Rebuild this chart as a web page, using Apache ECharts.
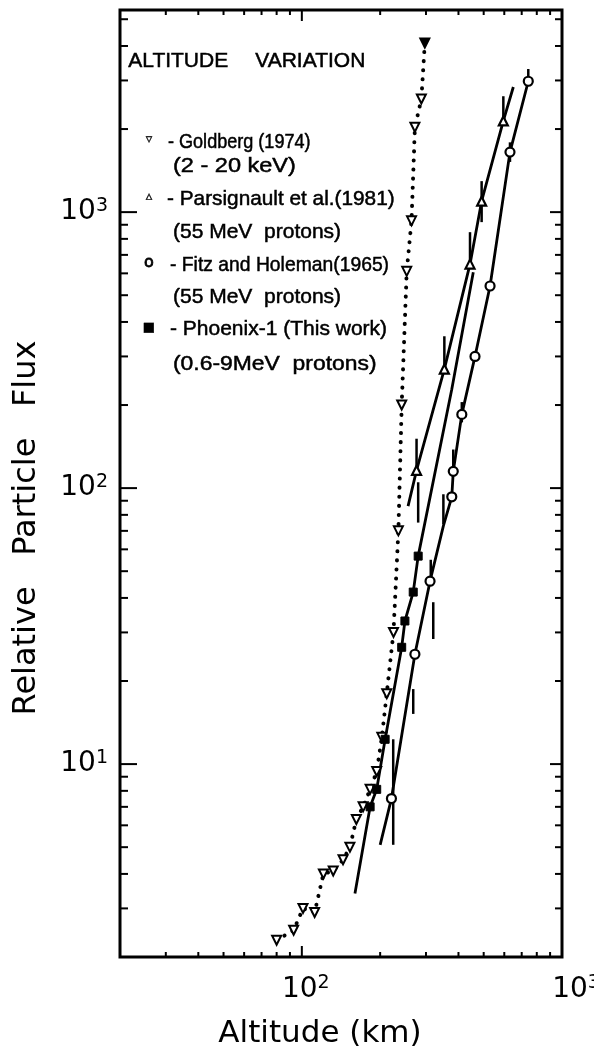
<!DOCTYPE html>
<html><head><meta charset="utf-8">
<script src="https://cdn.jsdelivr.net/npm/echarts@6/dist/echarts.min.js"></script>
<style>html,body{margin:0;padding:0;background:#fff;overflow:hidden}#c{width:594px;height:1051px}</style>
</head><body><div id="c"></div>
<script>
// ---- data ----
const goldbergAlt  = [80, 93, 101, 112, 121, 132, 144, 153, 162, 172, 183, 194, 203, 212, 225, 235, 242, 253, 264, 272, 288, 297];
const goldbergFlux = [2.3, 2.5, 3.0, 2.9, 4.0, 4.1, 4.5, 5.0, 6.3, 7.0, 8.1, 9.4, 12.5, 18, 30, 70, 200, 610, 930, 2030, 2570, 4100];
const goldbergFilled = [0,0,0,0,0,0,0,0,0,0,0,0,0,0,0,0,0,0,0,0,0,1];

const fitzAlt  = [200, 221, 272, 311, 350, 377, 382, 412, 463, 529, 631, 742];
const fitzFlux = [5.1, 7.5, 25, 46, 73, 93, 115, 185, 300, 540, 1650, 2980];
const fitzMark = [0,1,1,1,0,1,1,1,1,1,1,1];

const parsAlt  = [256, 276, 353, 443, 491, 595, 650];
const parsFlux = [86, 116, 270, 648, 1096, 2140, 2840];
const parsMark = [0,1,1,1,1,1,0];

const phxAlt  = [160, 183, 194, 209, 242, 249, 268, 280, 377, 456];
const phxFlux = [3.4, 7.0, 8.1, 12.3, 26.5, 33, 42, 56.7, 228, 606];
const phxMark = [0,1,1,1,1,1,1,1,0,0];

const errAlt  = [280, 276, 353, 443, 491, 595, 631, 742, 412, 382, 350, 320, 268, 224.5, 313];
const errLow  = [75, 116, 270, 648, 920, 2140, 1520, 2980, 173, 115, 74, 28.4, 15.2, 5.1, 46];
const errHigh = [105, 151, 355, 846, 1295, 2630, 1790, 3300, 205, 138, 95, 38.6, 18.7, 12.3, 55];

const xMinorTicks = [30,40,50,60,70,80,90,200,300,400,500,600,700,800,900];
const xMajorTicks = [100];
const yMinorTicks = [3,4,5,6,7,8,9,20,30,40,50,60,70,80,90,200,300,400,500,600,700,800,900,2000,3000,4000,5000];
const yMajorTicks = [10,100,1000];
const xLabelExp = [2,3];
const yLabelExp = [1,2,3];

const titleText = 'ALTITUDE';
const titleText2 = 'VARIATION';
const legendLines = [
  '- Goldberg (1974)',
  '(2 - 20 keV)',
  '- Parsignault et al.(1981)',
  '(55 MeV  protons)',
  '- Fitz and Holeman(1965)',
  '(55 MeV  protons)',
  '- Phoenix-1 (This work)',
  '(0.6-9MeV  protons)'
];
const legendSymbols = ['▿', '▵', 'o', '■'];
const xTitle = 'Altitude (km)';
const yTitle = 'Relative   Particle   Flux';

// ---- build ----
const chart = echarts.init(document.getElementById('c'), null, {renderer: 'canvas'});

function lineData(xs, ys, marks) {
  return xs.map((x, i) => marks[i] ? [x, ys[i]] : {value: [x, ys[i]], symbol: 'none'});
}
const goldData = goldbergAlt.map((x, i) => goldbergFilled[i]
  ? {value: [x, goldbergFlux[i]], itemStyle: {color: '#000'}}
  : [x, goldbergFlux[i]]);

const xTickData = xMinorTicks.map(v => [v, 10, 0]).concat(xMajorTicks.map(v => [v, 10, 1]));
const yTickData = yMinorTicks.map(v => [100, v, 0]).concat(yMajorTicks.map(v => [100, v, 1]));
const errData = errAlt.map((x, i) => [x, errLow[i], errHigh[i]]);

function fmtSup(exps, big) {
  return function (v) {
    const e = Math.round(Math.log10(v));
    if (Math.abs(v / Math.pow(10, e) - 1) > 1e-6) return '';
    if (exps.indexOf(e) < 0) return '';
    return '{' + (big && e === 3 ? 'bx' : (big ? 'bm' : 'b')) + '|10}{s|' + e + '}';
  };
}
const supRich = {
  b: {fontFamily: 'DejaVu Sans', fontSize: 28, lineHeight: 32, color: '#000'},
  bm: {fontFamily: 'DejaVu Sans', fontSize: 28, lineHeight: 32, color: '#000', padding: [0, 0, 0, 8]},
  bx: {fontFamily: 'DejaVu Sans', fontSize: 28, lineHeight: 32, color: '#000', padding: [0, 0, 0, 28]},
  s: {fontFamily: 'DejaVu Sans', fontSize: 19, lineHeight: 19, verticalAlign: 'top', color: '#000'}
};

const G = {left: 120, right: 32, top: 10, bottom: 94};

const graphics = [];
graphics.push({type: 'text', left: 128, top: 50, style: {text: titleText, font: '21px "Liberation Sans"', fill: '#000', stroke: '#000', lineWidth: 0.5}});
graphics.push({type: 'text', left: 255, top: 50, style: {text: titleText2, font: '21px "Liberation Sans"', fill: '#000', stroke: '#000', lineWidth: 0.5}});
const legY = [142, 166, 199, 232, 265, 297, 329, 364];
const legX = [168, 173, 167, 173, 170, 173, 170, 173];
const legScale = [0.86, 1.12, 0.99, 1.0, 0.92, 1.0, 1.0, 1.09];
legendLines.forEach((t, i) => {
  graphics.push({type: 'text', x: legX[i], y: legY[i], scaleX: legScale[i],
    style: {text: t, font: '21px "Liberation Sans"', fill: '#000', stroke: '#000', lineWidth: 0.5,
      textVerticalAlign: 'middle', verticalAlign: 'middle', textAlign: 'left', align: 'left'}});
});
const symY = [140, 197, 263, 328];
legendSymbols.forEach((t, i) => {
  graphics.push({type: 'text', x: 149, y: symY[i],
    style: {text: t, font: (i === 2 ? '16px' : '13px') + ' "DejaVu Sans"', fill: '#000', stroke: '#000', lineWidth: i === 2 ? 0.8 : 0.3,
      textAlign: 'center', align: 'center', textVerticalAlign: 'middle', verticalAlign: 'middle'}});
});
graphics.push({type: 'text', x: 320, y: 1034,
  style: {text: xTitle, font: '31px "DejaVu Sans"', fill: '#000', textAlign: 'center', align: 'center', textVerticalAlign: 'middle', verticalAlign: 'middle'}});
graphics.push({type: 'text', x: 27, y: 528, rotation: Math.PI / 2,
  style: {text: yTitle, font: '32px "DejaVu Sans"', fill: '#000', textAlign: 'center', align: 'center', textVerticalAlign: 'middle', verticalAlign: 'middle'}});

const option = {
  animation: false,
  backgroundColor: '#fff',
  grid: Object.assign({show: true, borderColor: '#000', borderWidth: 3, containLabel: false, outerBoundsMode: 'none'}, G),
  xAxis: {
    type: 'log', logBase: 10, min: 20, max: 1000,
    axisLine: {show: false}, axisTick: {show: false}, splitLine: {show: false}, minorTick: {show: false},
    axisLabel: {formatter: fmtSup(xLabelExp, true), rich: supRich, margin: 17, showMinLabel: true, showMaxLabel: true, hideOverlap: false}
  },
  yAxis: {
    type: 'log', logBase: 10, min: 2, max: 5400,
    axisLine: {show: false}, axisTick: {show: false}, splitLine: {show: false}, minorTick: {show: false},
    axisLabel: {formatter: fmtSup(yLabelExp, false), rich: supRich, margin: 12}
  },
  graphic: graphics,
  series: [
    {
      type: 'custom', name: 'xticks', silent: true, z: 5,
      data: xTickData, encode: {x: 0, y: 1},
      renderItem: function (params, api) {
        const cs = params.coordSys;
        const px = api.coord([api.value(0), 10])[0];
        const len = api.value(2) ? 11 : 5;
        const b = cs.y + cs.height, t = cs.y;
        return {type: 'group', children: [
          {type: 'line', shape: {x1: px, y1: b, x2: px, y2: b - len}, style: {stroke: '#000', lineWidth: 2}},
          {type: 'line', shape: {x1: px, y1: t, x2: px, y2: t + len}, style: {stroke: '#000', lineWidth: 2}}
        ]};
      }
    },
    {
      type: 'custom', name: 'yticks', silent: true, z: 5,
      data: yTickData, encode: {x: 0, y: 1},
      renderItem: function (params, api) {
        const cs = params.coordSys;
        const py = api.coord([100, api.value(1)])[1];
        const maj = api.value(2);
        const l = cs.x, r = cs.x + cs.width;
        return {type: 'group', children: [
          {type: 'line', shape: {x1: l, y1: py, x2: l + (maj ? 17 : 8), y2: py}, style: {stroke: '#000', lineWidth: 2}},
          {type: 'line', shape: {x1: r, y1: py, x2: r - (maj ? 12 : 7), y2: py}, style: {stroke: '#000', lineWidth: 2}}
        ]};
      }
    },
    {
      type: 'custom', name: 'errors', silent: true, z: 3,
      data: errData, encode: {x: 0, y: [1, 2]},
      renderItem: function (params, api) {
        const a = api.coord([api.value(0), api.value(1)]);
        const b = api.coord([api.value(0), api.value(2)]);
        return {type: 'line', shape: {x1: a[0], y1: a[1], x2: b[0], y2: b[1]}, style: {stroke: '#000', lineWidth: 2.5}};
      }
    },
    {
      type: 'line', name: 'Goldberg (1974)', data: goldData, z: 4,
      symbol: 'triangle', symbolRotate: 180, symbolSize: 9, showAllSymbol: true,
      lineStyle: {color: '#000', width: 4, type: [0.1, 9], cap: 'round'},
      itemStyle: {color: '#fff', borderColor: '#000', borderWidth: 2}
    },
    {
      type: 'line', name: 'Fitz and Holeman (1965)', data: lineData(fitzAlt, fitzFlux, fitzMark), z: 4,
      symbol: 'circle', symbolSize: 9, showAllSymbol: true,
      lineStyle: {color: '#000', width: 2.8},
      itemStyle: {color: '#fff', borderColor: '#000', borderWidth: 2.2}
    },
    {
      type: 'line', name: 'Parsignault et al. (1981)', data: lineData(parsAlt, parsFlux, parsMark), z: 4,
      symbol: 'triangle', symbolSize: 9, showAllSymbol: true,
      lineStyle: {color: '#000', width: 2.8},
      itemStyle: {color: '#fff', borderColor: '#000', borderWidth: 2.2}
    },
    {
      type: 'line', name: 'Phoenix-1 (This work)', data: lineData(phxAlt, phxFlux, phxMark), z: 4,
      symbol: 'rect', symbolSize: 8, showAllSymbol: true,
      lineStyle: {color: '#000', width: 2.8},
      itemStyle: {color: '#000', borderColor: '#000', borderWidth: 1}
    }
  ]
};
chart.setOption(option);
</script>
</body></html>
